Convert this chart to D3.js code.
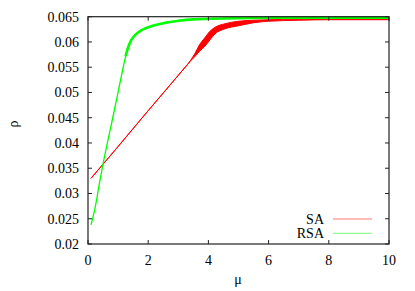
<!DOCTYPE html>
<html>
<head>
<meta charset="utf-8">
<script src="https://cdn.jsdelivr.net/npm/d3@7"></script>
<style>
  body { margin: 0; background: #fff; }
</style>
</head>
<body>
<div id="chart"></div>
<script>
// SA: spread of runs, lower and upper edge of the red band
var saMu   = [0.1, 1, 2, 3, 3.4, 3.55, 3.7, 3.89, 4.05, 4.22, 4.55, 5.0, 5.5, 6, 7, 8, 10];
var saLow  = [0.0330, 0.0393, 0.0464, 0.0534, 0.0562, 0.0571, 0.0581, 0.0592, 0.0604, 0.0616, 0.0626, 0.0632, 0.0638, 0.0641, 0.0643, 0.0644, 0.0644];
var saHigh = [0.0330, 0.0393, 0.0464, 0.0534, 0.0563, 0.0577, 0.0594, 0.0609, 0.0621, 0.0629, 0.0636, 0.0641, 0.0643, 0.0644, 0.0645, 0.0645, 0.0645];

// RSA
var rsaMu  = [0.1, 0.23, 0.34, 0.48, 0.59, 0.8, 1.0, 1.15, 1.25, 1.34, 1.45, 1.56, 1.73, 1.89, 2.2, 2.56, 3.0, 3.5, 4.0, 5, 6, 8, 10];
var rsaRho = [0.0238, 0.0267, 0.0307, 0.0353, 0.0386, 0.0443, 0.0500, 0.0545, 0.0572, 0.0592, 0.0606, 0.0614, 0.0622, 0.0627, 0.0633, 0.0638, 0.0642, 0.0645, 0.0646, 0.0647, 0.0648, 0.0648, 0.0648];

var xTicks = [0, 2, 4, 6, 8, 10];
var yTicks = [0.02, 0.025, 0.03, 0.035, 0.04, 0.045, 0.05, 0.055, 0.06, 0.065];
var seriesNames = ["SA", "RSA"];
var seriesColors = ["#ff0000", "#00ff00"];

var width = 415, height = 291;
var m = {left: 88, right: 389, top: 16.7, bottom: 244};

var x = d3.scaleLinear().domain([0, 10]).range([m.left, m.right]),
    y = d3.scaleLinear().domain([0.02, 0.065]).range([m.bottom, m.top]);

var svg = d3.select("#chart").append("svg")
    .attr("width", width)
    .attr("height", height)
    .style("font-family", "\"Liberation Serif\", \"Times New Roman\", serif")
    .style("font-size", "14px");

// data
var sa = saMu.map(function(v, i) { return {mu: v, lo: saLow[i], hi: saHigh[i]}; });
var rsa = rsaMu.map(function(v, i) { return {mu: v, rho: rsaRho[i]}; });

var plot = svg.append("g");

plot.append("path")
    .datum(sa)
    .attr("fill", seriesColors[0])
    .attr("stroke", seriesColors[0])
    .attr("stroke-width", 1)
    .attr("d", d3.area()
        .curve(d3.curveMonotoneX)
        .x(function(d) { return x(d.mu); })
        .y0(function(d) { return y(d.lo); })
        .y1(function(d) { return y(d.hi); }));

var rsaLine = d3.line()
    .curve(d3.curveBasis)
    .x(function(d) { return x(d.mu); })
    .y(function(d) { return y(d.rho); });

plot.append("path")
    .datum(rsa)
    .attr("fill", "none")
    .attr("stroke", seriesColors[1])
    .attr("stroke-width", 1.3)
    .attr("d", rsaLine);

// runs overlap near the plateau, the line looks thicker there
plot.append("path")
    .datum(rsa.filter(function(d) { return d.mu >= 1.25; }))
    .attr("fill", "none")
    .attr("stroke", seriesColors[1])
    .attr("stroke-width", 2.6)
    .attr("d", rsaLine);

// frame
svg.append("rect")
    .attr("x", m.left).attr("y", m.top)
    .attr("width", m.right - m.left).attr("height", m.bottom - m.top)
    .attr("fill", "none")
    .attr("stroke", "#222")
    .attr("stroke-width", 1.2);

var tickLen = 4;
var ticks = svg.append("g").attr("stroke", "#222").attr("stroke-width", 1);

xTicks.forEach(function(t) {
    ticks.append("line").attr("x1", x(t)).attr("x2", x(t)).attr("y1", m.bottom).attr("y2", m.bottom - tickLen);
    ticks.append("line").attr("x1", x(t)).attr("x2", x(t)).attr("y1", m.top).attr("y2", m.top + tickLen);
});
yTicks.forEach(function(t) {
    ticks.append("line").attr("x1", m.left).attr("x2", m.left + tickLen).attr("y1", y(t)).attr("y2", y(t));
    ticks.append("line").attr("x1", m.right).attr("x2", m.right - tickLen).attr("y1", y(t)).attr("y2", y(t));
});

svg.append("g").selectAll("text")
    .data(xTicks)
    .enter().append("text")
    .attr("x", function(d) { return x(d); })
    .attr("y", 265)
    .attr("text-anchor", "middle")
    .text(function(d) { return d; });

svg.append("g").selectAll("text")
    .data(yTicks)
    .enter().append("text")
    .attr("x", 79)
    .attr("y", function(d) { return y(d) + 5; })
    .attr("text-anchor", "end")
    .text(function(d) { return +d.toFixed(3); });

svg.append("text")
    .attr("x", 238)
    .attr("y", 284)
    .attr("text-anchor", "middle")
    .text("μ");

svg.append("text")
    .attr("transform", "translate(18,124) rotate(-90)")
    .attr("text-anchor", "middle")
    .text("ρ");

// legend
var legend = svg.append("g");
seriesNames.forEach(function(name, i) {
    var ly = 219 + i * 14.3;
    legend.append("text")
        .attr("x", 324)
        .attr("y", ly + 5)
        .attr("text-anchor", "end")
        .text(name);
    legend.append("line")
        .attr("x1", 333).attr("x2", 372)
        .attr("y1", ly).attr("y2", ly)
        .attr("stroke", seriesColors[i])
        .attr("stroke-opacity", 0.55)
        .attr("stroke-width", 1);
});
</script>
</body>
</html>
